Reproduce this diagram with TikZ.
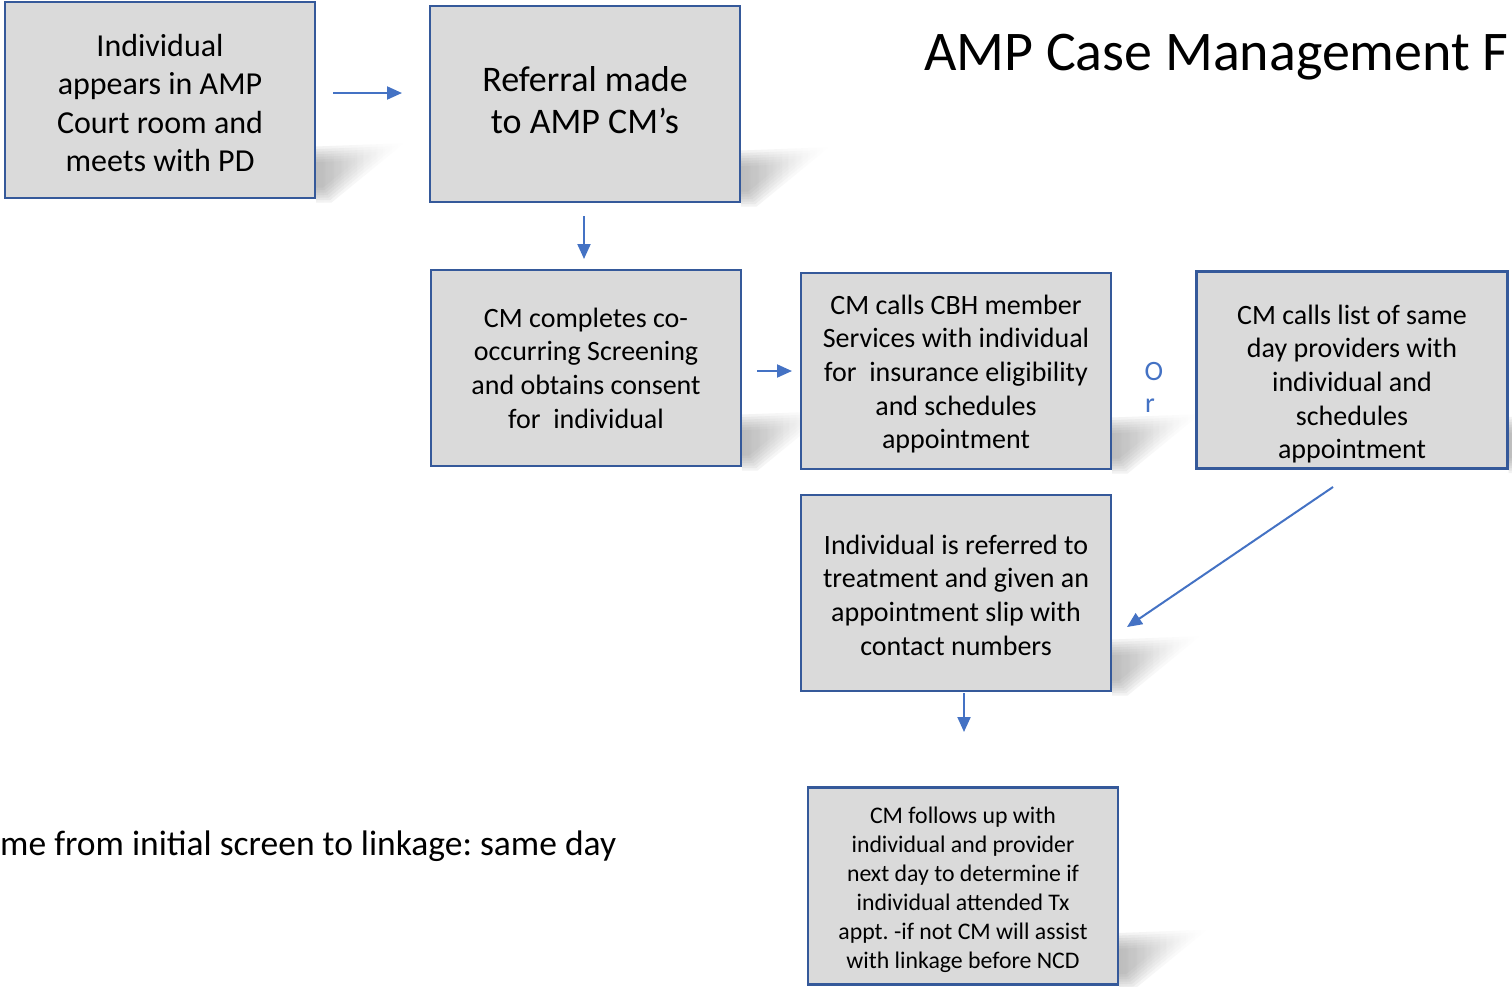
\documentclass[tikz,border=0pt]{standalone}
\usepackage{fontspec}
\setmainfont{Carlito}
\frenchspacing
\usetikzlibrary{arrows.meta,fadings,calc}
\definecolor{boxfill}{HTML}{DADADA}
\definecolor{boxline}{HTML}{35599A}
\definecolor{arrowblue}{HTML}{4472C4}
\tikzset{
  flowbox/.style={draw=boxline, line width=2.2pt, fill=boxfill, minimum width=310pt, minimum height=196pt, inner sep=0pt, align=center, text=black},
  flowtext/.style={inner sep=0pt, align=center, text=black},
  flowarrow/.style={draw=arrowblue, line width=2pt, -{Triangle[length=15pt,width=13pt]}},
  fontA/.style={font=\fontsize{32}{38.5}\selectfont},
  fontB/.style={font=\fontsize{36}{42.5}\selectfont},
  fontC/.style={font=\fontsize{28}{33.7}\selectfont},
  fontD/.style={font=\fontsize{23.8}{29}\selectfont},
}
\newcommand\boxshadow[1]{%
  \begin{scope}[shift={($(#1.south east)+(0,-24)$)}]
  \foreach \s in {1.1,1.0,0.9,0.8,0.7,0.6,0.5}{%
  \fill[gray!85, opacity=0.12, path fading=east]
    (0,{-26*\s}) -- ({80*\s},{-29*\s}) -- ({14*\s},{25*\s}) -- (0,{25*\s}) -- cycle;}
  \end{scope}}
\begin{document}
\begin{tikzpicture}[x=1pt,y=-1pt]
\useasboundingbox (0,0) rectangle (1512,986);
\fill[white] (0,0) rectangle (1512,986);
\clip (0,0) rectangle (1512,986);
% node positions (centers)
\path (160,100) coordinate (c1) (585,104) coordinate (c2) (586,368) coordinate (c3)
      (956,371) coordinate (c4) (1352,370) coordinate (c5) (956,593) coordinate (c6) (963,886) coordinate (c7);
% shadows first, boxes drawn over them
\node[flowbox, draw=none, fill=none] (s1) at (c1) {};
\node[flowbox, draw=none, fill=none] (s2) at (c2) {};
\node[flowbox, draw=none, fill=none] (s3) at (c3) {};
\node[flowbox, draw=none, fill=none] (s4) at (c4) {};
\node[flowbox, draw=none, fill=none, minimum width=311pt, minimum height=197pt] (s5) at (c5) {};
\node[flowbox, draw=none, fill=none] (s6) at (c6) {};
\node[flowbox, draw=none, fill=none, minimum height=197pt] (s7) at (c7) {};
\boxshadow{s1}\boxshadow{s2}\boxshadow{s3}\boxshadow{s4}\boxshadow{s5}\boxshadow{s6}\boxshadow{s7}
% boxes
\node[flowbox] (n1) at (c1) {};
\node[flowbox] (n2) at (c2) {};
\node[flowbox] (n3) at (c3) {};
\node[flowbox] (n4) at (c4) {};
\node[flowbox, minimum width=311pt, minimum height=197pt] (n5) at (c5) {};
\node[flowbox] (n6) at (c6) {};
\node[flowbox, minimum height=197pt] (n7) at (c7) {};
% texts
\node[flowtext, fontA] (t1) at ($(n1.center)+(0,3)$) {Individual\\appears in AMP\\Court room and\\meets with PD};
\node[flowtext, fontB] (t2) at ($(n2.center)+(0,-4)$) {Referral made\\to AMP CM’s};
\node[flowtext, fontC] (t3) at ($(n3.center)+(0,0)$) {CM completes co-\\occurring Screening\\and obtains consent\\for\ \ individual};
\node[flowtext, fontC] (t4) at ($(n4.center)+(0,3)$) {CM calls CBH member\\Services with individual\\for\ \ insurance eligibility\\and schedules\\appointment};
\node[flowtext, fontC] (t5) at ($(n5.center)+(0,14)$) {CM calls list of same\\day providers with\\individual and\\schedules\\appointment};
\node[flowtext, fontC] (t6) at ($(n6.center)+(0,2)$) {Individual is referred to\\treatment and given an\\appointment slip with\\contact numbers};
\node[flowtext, fontD] (t7) at ($(n7.center)+(0,4)$) {CM follows up with\\individual and provider\\next day to determine if\\individual attended Tx\\appt. -if not CM will assist\\with linkage before NCD};
% connector end points
\coordinate (a1s) at (333,93);  \coordinate (a1e) at (402,93);
\coordinate (a2s) at (584,216); \coordinate (a2e) at (584,259);
\coordinate (a3s) at (757,371); \coordinate (a3e) at (792,371);
\coordinate (a4s) at (1333,487); \coordinate (a4e) at (1127,627);
\coordinate (a5s) at (964,693); \coordinate (a5e) at (964,732);
\draw[flowarrow] (a1s) -- (a1e);
\draw[flowarrow] (a2s) -- (a2e);
\draw[flowarrow] (a3s) -- (a3e);
\draw[flowarrow] (a4s) -- (a4e);
\draw[flowarrow] (a5s) -- (a5e);
% or label
\node[text=arrowblue, fontC, inner sep=0pt] (or1) at (1154,372) {O};
\node[text=arrowblue, fontC, inner sep=0pt] (or2) at (1150,406) {r};
% title and footer
\node[anchor=base west, inner sep=0pt, font=\fontsize{56}{64}\selectfont] (title) at (924,70) {AMP Case Management F};
\node[anchor=base west, inner sep=0pt, font=\fontsize{35.5}{40}\selectfont] (foot) at (0,855) {me from initial screen to linkage: same day};
\end{tikzpicture}
\end{document}
